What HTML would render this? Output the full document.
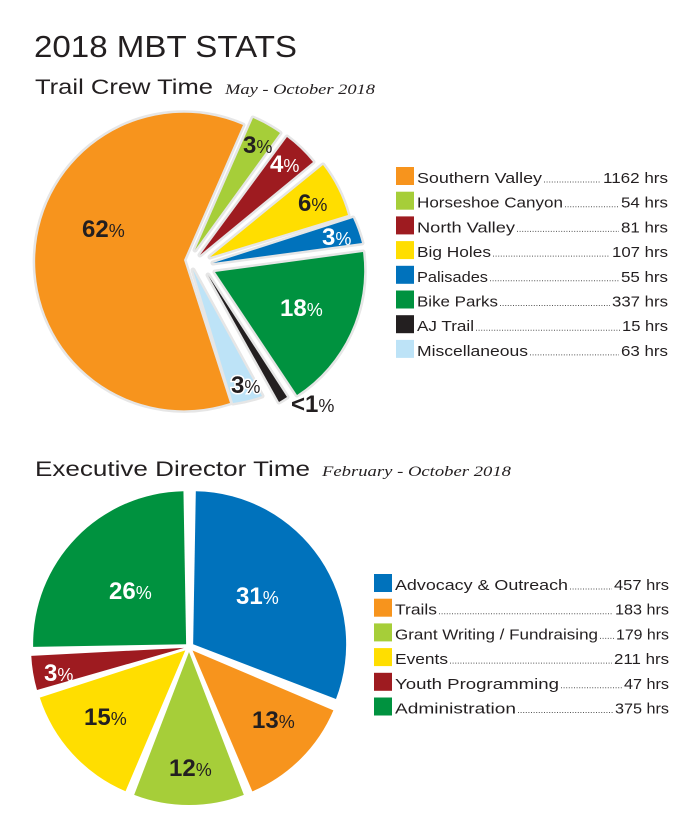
<!DOCTYPE html>
<html><head><meta charset="utf-8"><style>
html,body{margin:0;padding:0;background:#fff;}
svg{display:block;}
text{font-family:"Liberation Sans",sans-serif;}
.lbl{font-weight:bold;font-size:24px;}
.lbl tspan.p{font-size:18px;font-weight:normal;}
.leg{font-size:15px;fill:#231f20;}
.ser{font-family:"Liberation Serif",serif;font-style:italic;font-size:15px;fill:#231f20;}
</style></head><body>
<svg id="s" width="691" height="825" viewBox="0 0 691 825" xmlns="http://www.w3.org/2000/svg">
<text x="34" y="57" font-size="31" fill="#231f20" textLength="263" lengthAdjust="spacingAndGlyphs">2018 MBT STATS</text>
<text x="35" y="94" font-size="21" fill="#231f20" textLength="178" lengthAdjust="spacingAndGlyphs">Trail Crew Time</text>
<text x="225" y="94" class="ser" textLength="150" lengthAdjust="spacingAndGlyphs">May - October 2018</text>
<text x="35" y="476" font-size="21" fill="#231f20" textLength="275" lengthAdjust="spacingAndGlyphs">Executive Director Time</text>
<text x="322" y="476" class="ser" textLength="189" lengthAdjust="spacingAndGlyphs">February - October 2018</text>
<g id="p1"></g><g id="p2"></g>
<g id="lg"></g>
<!-- top labels -->
<text class="lbl" x="82" y="237" fill="#231f20">62<tspan class="p">%</tspan></text>
<text class="lbl" x="243" y="153" fill="#231f20">3<tspan class="p">%</tspan></text>
<text class="lbl" x="270" y="172" fill="#fff">4<tspan class="p">%</tspan></text>
<text class="lbl" x="298" y="211" fill="#231f20">6<tspan class="p">%</tspan></text>
<text class="lbl" x="322" y="245" fill="#fff">3<tspan class="p">%</tspan></text>
<text class="lbl" x="280" y="316" fill="#fff">18<tspan class="p">%</tspan></text>
<text class="lbl" x="231" y="393" fill="#231f20" stroke="#fff" stroke-width="3" paint-order="stroke">3<tspan class="p">%</tspan></text>
<text class="lbl" x="291" y="412" fill="#231f20" stroke="#fff" stroke-width="3" paint-order="stroke">&lt;1<tspan class="p">%</tspan></text>
<!-- bottom labels -->
<text class="lbl" x="109" y="599" fill="#fff">26<tspan class="p">%</tspan></text>
<text class="lbl" x="236" y="604" fill="#fff">31<tspan class="p">%</tspan></text>
<text class="lbl" x="44" y="681" fill="#fff">3<tspan class="p">%</tspan></text>
<text class="lbl" x="84" y="725" fill="#231f20">15<tspan class="p">%</tspan></text>
<text class="lbl" x="252" y="728" fill="#231f20">13<tspan class="p">%</tspan></text>
<text class="lbl" x="169" y="776" fill="#231f20">12<tspan class="p">%</tspan></text>
</svg>
<script>
var NS="http://www.w3.org/2000/svg";
function pt(cx,cy,r,a){a=a*Math.PI/180;return [cx+r*Math.sin(a),cy-r*Math.cos(a)];}
function addPath(g,d,col,shadow){
 if(shadow){var s=document.createElementNS(NS,"path");s.setAttribute("d",d);s.setAttribute("fill","none");s.setAttribute("stroke",shadow);s.setAttribute("stroke-width","5");s.setAttribute("stroke-linejoin","round");g.appendChild(s);}
 var e=document.createElementNS(NS,"path");e.setAttribute("d",d);e.setAttribute("fill",col);g.appendChild(e);
}
function slice(g,cx,cy,r,a0,a1,off,col,shadow){
 var m=(a0+a1)/2,o=pt(0,0,off,m);cx+=o[0];cy+=o[1];
 var p0=pt(cx,cy,r,a0),p1=pt(cx,cy,r,a1),lg=(a1-a0)>180?1:0;
 addPath(g,"M"+cx+","+cy+"L"+p0[0]+","+p0[1]+"A"+r+","+r+" 0 "+lg+" 1 "+p1[0]+","+p1[1]+"Z",col,shadow);
}
function wedge(g,a,p0,p1,col,big){
 var r=(Math.hypot(p0[0]-a[0],p0[1]-a[1])+Math.hypot(p1[0]-a[0],p1[1]-a[1]))/2;
 addPath(g,"M"+a+"L"+p0+"A"+r+","+r+" 0 "+(big?1:0)+" 1 "+p1+"Z",col,"#e6e6e6");
}
var g1=document.getElementById("p1");
wedge(g1,[184,260],[230,403],[243,125],"#f7941d",1);
wedge(g1,[195,250],[253,118],[280,133],"#a6ce39");
wedge(g1,[200,255],[287,137],[313,162],"#9e1b20");
wedge(g1,[210,257],[323,165],[348,215],"#ffde00");
wedge(g1,[213,263],[353,218],[362,243],"#0072bc");
wedge(g1,[215,272],[363,252],[297,395],"#00923f");
wedge(g1,[208,275],[287,397],[279,402],"#231f20");
wedge(g1,[193,270],[262,396],[233,403],"#bde3f7");
var g2=document.getElementById("p2");
[[1,111,5,"#0072bc"],[113,157,5,"#f7941d"],[159,201,5,"#a6ce39"],[203,252,5,"#ffde00"],[254,267,5,"#9e1b20"],[269,359,4,"#00923f"]]
.forEach(function(s){slice(g2,189,647,153,s[0],s[1],s[2],s[3],null);});
var lg=document.getElementById("lg");
function row(x,y,col,lab,le,val,vs,ve){
 var r=document.createElementNS(NS,"rect");r.setAttribute("x",x);r.setAttribute("y",y-16);r.setAttribute("width",18);r.setAttribute("height",18);r.setAttribute("fill",col);lg.appendChild(r);
 var t=document.createElementNS(NS,"text");t.setAttribute("x",x+21);t.setAttribute("y",y);t.setAttribute("class","leg");t.setAttribute("textLength",le-x-21);t.setAttribute("lengthAdjust","spacingAndGlyphs");t.textContent=lab;lg.appendChild(t);
 var l=document.createElementNS(NS,"line");l.setAttribute("x1",le+2);l.setAttribute("x2",vs-2);l.setAttribute("y1",y-1);l.setAttribute("y2",y-1);l.setAttribute("stroke","#555");l.setAttribute("stroke-width","1");l.setAttribute("stroke-dasharray","1 1.6");lg.appendChild(l);
 var v=document.createElementNS(NS,"text");v.setAttribute("x",vs);v.setAttribute("y",y);v.setAttribute("class","leg");v.setAttribute("textLength",ve-vs);v.setAttribute("lengthAdjust","spacingAndGlyphs");v.textContent=val;lg.appendChild(v);
}
var T=[["#f7941d","Southern Valley",542,"1162 hrs",603],["#a6ce39","Horseshoe Canyon",563,"54 hrs",621],["#9e1b20","North Valley",515,"81 hrs",621],["#ffde00","Big Holes",491,"107 hrs",612],["#0072bc","Palisades",488,"55 hrs",621],["#00923f","Bike Parks",498,"337 hrs",612],["#231f20","AJ Trail",474,"15 hrs",622],["#bde3f7","Miscellaneous",528,"63 hrs",621]];
T.forEach(function(r,i){row(396,183+i*24.7,r[0],r[1],r[2],r[3],r[4],668);});
var B=[["#0072bc","Advocacy & Outreach",568,"457 hrs",614],["#f7941d","Trails",437,"183 hrs",615],["#a6ce39","Grant Writing / Fundraising",598,"179 hrs",616],["#ffde00","Events",448,"211 hrs",614],["#9e1b20","Youth Programming",559,"47 hrs",624],["#00923f","Administration",516,"375 hrs",615]];
B.forEach(function(r,i){row(374,590+i*24.7,r[0],r[1],r[2],r[3],r[4],669);});
</script>
</body></html>
